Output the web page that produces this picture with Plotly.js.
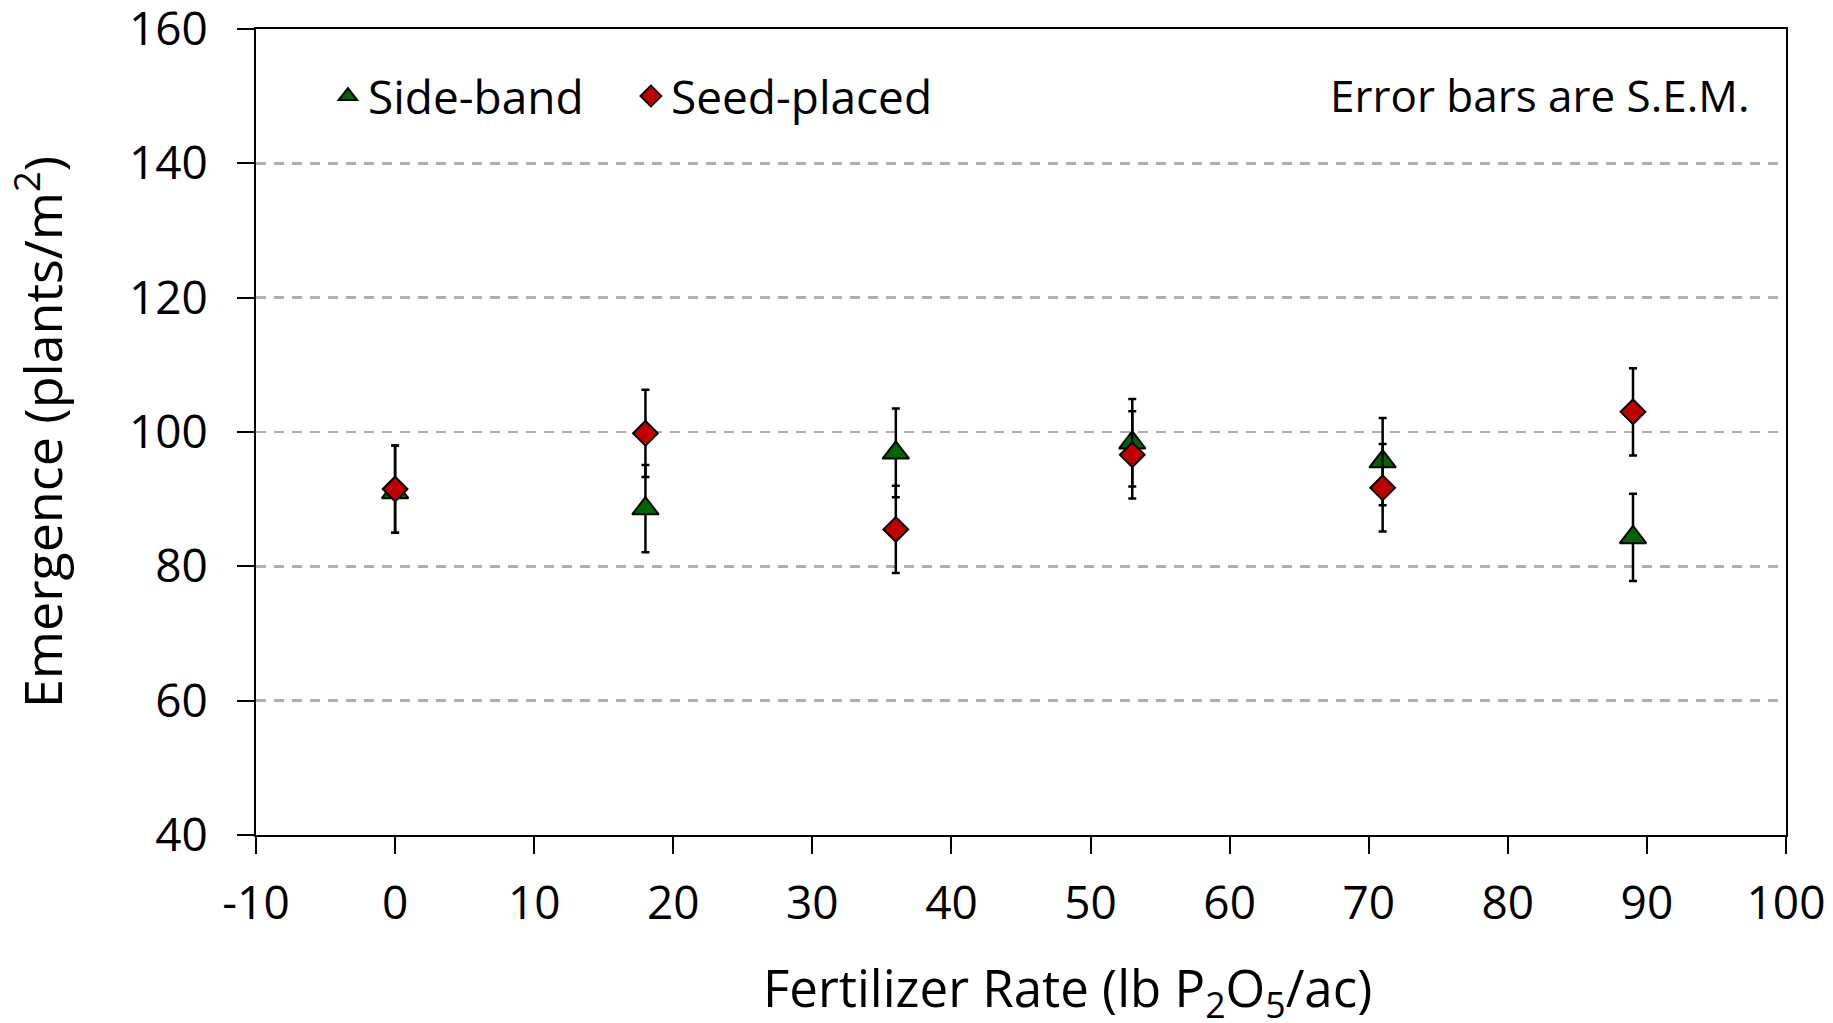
<!DOCTYPE html>
<html>
<head>
<meta charset="utf-8">
<script src="https://cdn.plot.ly/plotly-3.0.1.min.js"></script>
<style>html,body{margin:0;padding:0;background:#fff;}#chart{width:1833px;height:1023px;}</style>
</head>
<body>
<div id="chart"></div>
<script>
const rates = [0, 18, 36, 53, 71, 89];
const sideBand = [91.0, 88.6, 96.9, 98.4, 95.6, 84.3];
const sideBandSemPlus = [7.0, 6.5, 6.6, 6.5, 6.5, 6.5];
const sideBandSemMinus = [6.0, 6.5, 6.6, 6.5, 6.5, 6.5];
const seedPlaced = [91.5, 99.8, 85.5, 96.6, 91.7, 103.0];
const seedPlacedSem = [6.5, 6.5, 6.5, 6.5, 6.5, 6.5];
const xTicks = [-10, 0, 10, 20, 30, 40, 50, 60, 70, 80, 90, 100];
const yTicks = [40, 60, 80, 100, 120, 140, 160];

const FONT = '"Open Sans", "Noto Sans", sans-serif';

const traces = [
  {
    x: rates, y: sideBand, name: 'Side-band', type: 'scatter', mode: 'markers',
    marker: {symbol: 'triangle-up', size: 23, color: '#006600', line: {color: '#000', width: 2}},
    error_y: {type: 'data', symmetric: false, array: sideBandSemPlus, arrayminus: sideBandSemMinus,
              visible: true, color: '#000', thickness: 2.5, width: 4}
  },
  {
    x: rates, y: seedPlaced, name: 'Seed-placed', type: 'scatter', mode: 'markers',
    marker: {symbol: 'diamond', size: 19, color: '#c00000', line: {color: '#000', width: 2}},
    error_y: {type: 'data', array: seedPlacedSem, visible: true, color: '#000', thickness: 2.5, width: 4}
  }
];

const layout = {
  width: 1833, height: 1023,
  margin: {l: 256, r: 47, t: 29, b: 188},
  paper_bgcolor: '#fff', plot_bgcolor: '#fff',
  font: {family: FONT, size: 46, color: '#000'},
  showlegend: true,
  legend: {
    orientation: 'h', x: 0.047, y: 0.962, xanchor: 'left', yanchor: 'top',
    bgcolor: 'rgba(0,0,0,0)', font: {family: FONT, size: 46, color: '#000'},
    entrywidth: 258, entrywidthmode: 'pixels'
  },
  xaxis: {
    range: [-10, 100], tickvals: xTicks, ticktext: xTicks.map(String),
    showgrid: false, zeroline: false,
    showline: true, linecolor: '#000', linewidth: 2, mirror: true,
    ticks: 'outside', ticklen: 17, tickwidth: 2, tickcolor: '#000',
    ticklabelstandoff: 10, ticklabeloverflow: 'allow',
    tickfont: {family: FONT, size: 46, color: '#000'}
  },
  yaxis: {
    range: [40, 160.0001], tickvals: yTicks, ticktext: yTicks.map(String),
    showgrid: true, gridcolor: '#b0b0b0', gridwidth: 2.5, griddash: '10px,8px',
    zeroline: false,
    showline: true, linecolor: '#000', linewidth: 2, mirror: true,
    ticks: 'outside', ticklen: 17, tickwidth: 2, tickcolor: '#000',
    ticklabelstandoff: 20, ticklabeloverflow: 'allow',
    tickfont: {family: FONT, size: 46, color: '#000'},
    title: {text: 'Emergence (plants/m<sup>2</sup>)', font: {family: FONT, size: 52, color: '#000'}, standoff: 50}
  },
  annotations: [
    {text: 'Error bars are S.E.M.', xref: 'paper', yref: 'paper', x: 0.977, y: 0.918,
     xanchor: 'right', yanchor: 'middle', showarrow: false,
     font: {family: FONT, size: 44, color: '#000'}},
    {text: 'Fertilizer Rate (lb P<sub>2</sub>O<sub>5</sub>/ac)', xref: 'paper', yref: 'paper',
     x: 0.5307, y: -0.192, xanchor: 'center', yanchor: 'middle', showarrow: false,
     font: {family: FONT, size: 51, color: '#000'}}
  ]
};

Plotly.newPlot('chart', traces, layout, {displayModeBar: false, staticPlot: true});
</script>
</body>
</html>
